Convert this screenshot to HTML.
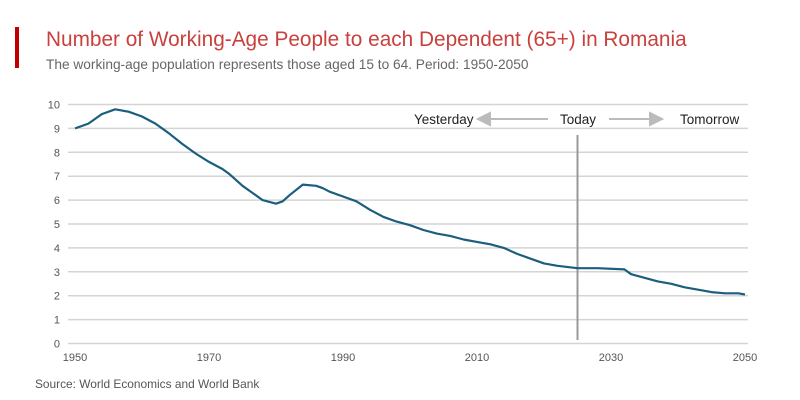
<!DOCTYPE html>
<html><head><meta charset="utf-8"><style>
body{margin:0;width:800px;height:400px;background:#fff;font-family:"Liberation Sans",sans-serif;overflow:hidden;position:relative}
.t{position:absolute;white-space:nowrap}
</style></head><body>
<div style="position:absolute;left:15px;top:27px;width:4px;height:41px;background:#c00000"></div>
<div class="t" style="left:46px;top:28px;font-size:20.8px;color:#c9413d">Number of Working-Age People to each Dependent (65+) in Romania</div>
<div class="t" style="left:46px;top:57px;font-size:13.7px;color:#666">The working-age population represents those aged 15 to 64. Period: 1950-2050</div>
<div class="t" style="left:35px;top:377px;font-size:11.9px;color:#555">Source: World Economics and World Bank</div>
<svg id="c" width="800" height="400" style="position:absolute;left:0;top:0"></svg>
<script>
const years=[1950,1952,1954,1956,1958,1960,1962,1964,1966,1968,1970,1972,1973,1975,1977,1978,1980,1981,1982,1984,1986,1987,1988,1990,1992,1994,1996,1998,2000,2002,2004,2006,2008,2010,2012,2014,2016,2018,2020,2022,2025,2028,2032,2033,2035,2037,2039,2041,2043,2045,2047,2049,2050];
const ratio=[9.0,9.2,9.6,9.8,9.7,9.5,9.2,8.8,8.35,7.95,7.6,7.3,7.1,6.6,6.2,6.0,5.85,5.95,6.2,6.65,6.6,6.5,6.35,6.15,5.95,5.6,5.3,5.1,4.95,4.75,4.6,4.5,4.35,4.25,4.15,4.0,3.75,3.55,3.35,3.25,3.15,3.15,3.1,2.9,2.75,2.6,2.5,2.35,2.25,2.15,2.1,2.1,2.05];
const yTicks=[0,1,2,3,4,5,6,7,8,9,10];
const xTicks=[1950,1970,1990,2010,2030,2050];
const todayYear=2025;
const NS="http://www.w3.org/2000/svg";
const svg=document.getElementById('c');
const X=v=>75+(v-1950)*6.7;
const Y=v=>343.5-v*23.9;
function mk(t,a){const e=document.createElementNS(NS,t);for(const k in a)e.setAttribute(k,a[k]);svg.appendChild(e);return e;}
yTicks.forEach(v=>{
  const l=mk('line',{x1:68,x2:748,y1:Y(v),y2:Y(v),stroke:'#d4d4d4','stroke-width':1.5});
  
  
  const t=mk('text',{x:60,y:Y(v)+4,'text-anchor':'end','font-size':11,fill:'#555'});
  t.textContent=v;
  
  
});
xTicks.forEach(v=>{
  const t=mk('text',{x:X(v),y:361,'text-anchor':'middle','font-size':11,fill:'#555'});
  t.textContent=v;
  
  
});
const vl=mk('line',{x1:X(todayYear),x2:X(todayYear),y1:135,y2:340,stroke:'#999','stroke-width':2});


const p=mk('path',{d:years.map((y,i)=>(i?'L':'M')+X(y).toFixed(1)+','+Y(ratio[i]).toFixed(1)).join(''),fill:'none',stroke:'#1b5e7e','stroke-width':2.2,'stroke-linejoin':'round'});


[['Yesterday',414,'yesterday-label'],['Today',560,'today-label'],['Tomorrow',680,'tomorrow-label']].forEach(([s,x,n])=>{
  const t=mk('text',{x:x,y:124,'font-size':13.5,fill:'#222'});t.textContent=s;
  
  
});
const a1=mk('path',{d:'M548,119H488M478,119L490,113L490,125Z',stroke:'#bbb','stroke-width':2,fill:'#bbb'});


const a2=mk('path',{d:'M609,119H652M662,119L650,113L650,125Z',stroke:'#bbb','stroke-width':2,fill:'#bbb'});


</script>
</body></html>
